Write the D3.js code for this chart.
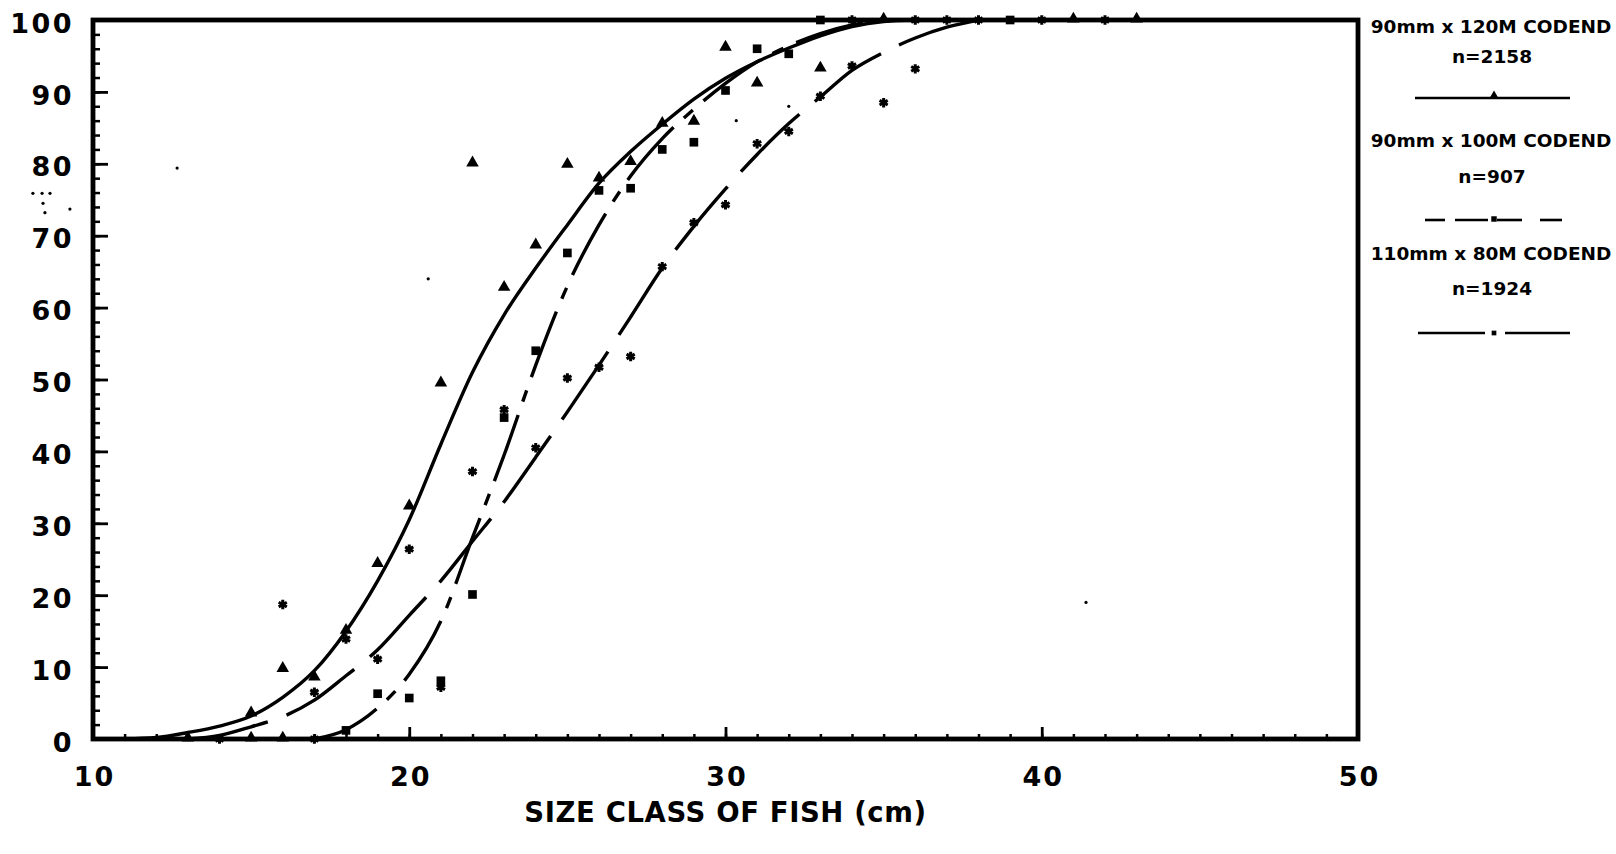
<!DOCTYPE html>
<html>
<head>
<meta charset="utf-8">
<script src="https://cdn.jsdelivr.net/npm/d3@7"></script>
<style>
  html, body { margin: 0; padding: 0; background: #fff; }
  svg { display: block; }
  .num { font-family: "DejaVu Sans", sans-serif; font-weight: bold; font-size: 27px; fill: #000; }
  .title { font-family: "DejaVu Sans", sans-serif; font-weight: bold; font-size: 27.5px; fill: #000; }
  .leg { font-family: "DejaVu Sans", sans-serif; font-weight: bold; font-size: 18.5px; fill: #000; }
</style>
</head>
<body>
<svg id="chart" width="1616" height="854"></svg>
<script>
// Retention (%) by size class (cm) for three codend configurations

// 90mm x 120M codend (triangles)
const triSize = [13, 15, 15, 16, 16, 17, 18, 19, 20, 21, 22, 23, 24, 25, 26, 27, 28, 29, 30, 31, 33, 35, 41, 43];
const triPct  = [0, 0, 3.5, 0, 9.7, 8.5, 15, 24.3, 32.3, 49.4, 80, 62.7, 68.6, 79.8, 77.9, 80.2, 85.5, 85.8, 96.1, 91.1, 93.2, 100, 100, 100];

// 90mm x 100M codend (squares)
const sqSize = [18, 19, 20, 21, 22, 23, 24, 25, 26, 27, 28, 29, 30, 31, 32, 33, 39];
const sqPct  = [1.2, 6.3, 5.7, 8.1, 20.1, 44.7, 54, 67.6, 76.3, 76.6, 82, 83, 90.2, 96, 95.3, 100, 100];

// 110mm x 80M codend (stars)
const starSize = [14, 16, 17, 17, 18, 19, 20, 21, 22, 23, 24, 25, 26, 27, 28, 29, 30, 31, 32, 33, 34, 35, 36, 34, 36, 37, 38, 40, 42];
const starPct  = [0, 18.7, 0, 6.5, 13.9, 11.1, 26.4, 7.2, 37.2, 45.8, 40.5, 50.2, 51.7, 53.2, 65.7, 71.8, 74.3, 82.8, 84.5, 89.4, 93.6, 88.5, 93.2, 100, 100, 100, 100, 100, 100];

// Fitted selection curves
const fitSize1 = [11, 12, 13, 14, 15, 16, 17, 18, 19, 20, 21, 22, 23, 24, 25, 26, 27, 28, 29, 30, 31, 32, 33, 34, 35, 36];
const fitPct1  = [0, 0.2, 0.9, 1.8, 3.2, 5.8, 9.5, 15, 22, 30.5, 41, 51, 59, 65.5, 71.5, 77.3, 81.7, 85.5, 89, 91.9, 94.2, 96.1, 97.8, 99.1, 99.8, 100];

const fitSize2 = [17, 18, 19, 20, 21, 22, 23, 24, 25, 26, 27, 28, 29, 30, 31, 32, 33, 34, 35];
const fitPct2  = [0, 1.3, 4.3, 9, 16.4, 28, 39.5, 52, 63, 71.5, 78.3, 83.5, 87.6, 91.2, 94.2, 96.4, 98.1, 99.3, 100];

const fitSize3 = [13, 14, 15, 16, 17, 18, 19, 20, 21, 22, 23, 24, 25, 26, 27, 28, 29, 30, 31, 32, 33, 34, 35, 36, 37, 38];
const fitPct3  = [0, 0.5, 1.7, 3.1, 5.4, 8.8, 12.4, 17.2, 22, 27.5, 33, 39.2, 45.5, 52, 58.7, 65.5, 71.3, 76.5, 81.3, 85.6, 89.3, 93, 95.5, 97.5, 99, 100];

// stray print marks
const speckSize = [12.66, 41.4, 20.6, 30.34, 32.0, 8.1, 8.39, 8.64, 8.42, 8.48, 9.27];
const speckPct  = [79.4, 19.0, 64, 86, 88, 75.9, 75.9, 75.9, 74.5, 73.2, 73.7];

const xTicks = [10, 20, 30, 40, 50];
const yTicks = [0, 10, 20, 30, 40, 50, 60, 70, 80, 90, 100];

const legendTitles = ["90mm x 120M CODEND", "90mm x 100M CODEND", "110mm x 80M CODEND"];
const legendCounts = ["n=2158", "n=907", "n=1924"];
const xTitle = "SIZE CLASS OF FISH (cm)";

const svg = d3.select("#chart");
const x = d3.scaleLinear().domain([10, 50]).range([93, 1358]);
const y = d3.scaleLinear().domain([0, 100]).range([739, 20]);

const zip = (a, b) => a.map((v, i) => [v, b[i]]);

// minor ticks
svg.append("g").attr("transform", `translate(${x(10)},0)`)
  .call(d3.axisLeft(y).tickValues(d3.range(0, 101, 2)).tickSize(-7).tickFormat(""))
  .call(g => g.select(".domain").remove())
  .call(g => g.selectAll("line").attr("stroke", "#000").attr("stroke-width", 2.5));
svg.append("g").attr("transform", `translate(0,${y(0)})`)
  .call(d3.axisBottom(x).tickValues(d3.range(10, 51, 1)).tickSize(-5).tickFormat(""))
  .call(g => g.select(".domain").remove())
  .call(g => g.selectAll("line").attr("stroke", "#000").attr("stroke-width", 2.5));

// major ticks with labels
svg.append("g").attr("transform", `translate(${x(10)},0)`)
  .call(d3.axisLeft(y).tickValues(yTicks).tickSize(-15).tickPadding(21).tickFormat(d3.format("d")))
  .call(g => g.select(".domain").remove())
  .call(g => g.selectAll("line").attr("stroke", "#000").attr("stroke-width", 2.8))
  .call(g => g.selectAll("text").attr("class", "num").attr("dy", "0.45em")
    .style("letter-spacing", "2.5px").attr("x", -19));
svg.append("g").attr("transform", `translate(0,${y(0)})`)
  .call(d3.axisBottom(x).tickValues(xTicks).tickSize(-12).tickPadding(28).tickFormat(d3.format("d")))
  .call(g => g.select(".domain").remove())
  .call(g => g.selectAll("line").attr("stroke", "#000").attr("stroke-width", 2.8))
  .call(g => g.selectAll("text").attr("class", "num").style("letter-spacing", "2px").attr("dx", "1px"));

// frame
svg.append("rect")
  .attr("x", x(10)).attr("y", y(100))
  .attr("width", x(50) - x(10)).attr("height", y(0) - y(100))
  .attr("fill", "none").attr("stroke", "#000").attr("stroke-width", 4.8);

// fitted curves
const line = d3.line().x(d => x(d[0])).y(d => y(d[1])).curve(d3.curveMonotoneX);
const curves = [
  { data: zip(fitSize1, fitPct1), dash: null },
  { data: zip(fitSize2, fitPct2), dash: "70,14,12,14" },
  { data: zip(fitSize3, fitPct3), dash: "82,20" }
];
svg.append("g").selectAll("path").data(curves).join("path")
  .attr("d", d => line(d.data))
  .attr("fill", "none").attr("stroke", "#000").attr("stroke-width", 3.4)
  .attr("stroke-linecap", "butt")
  .attr("stroke-dasharray", d => d.dash);

// markers
const tri = d3.symbol().type(d3.symbolTriangle).size(68);
const sq = d3.symbol().type(d3.symbolSquare).size(75);
const starType = d3.symbolAsterisk || d3.symbolStar;
const star = d3.symbol().type(starType).size(62);

svg.append("g").selectAll("path").data(zip(triSize, triPct)).join("path")
  .attr("d", tri).attr("transform", d => `translate(${x(d[0])},${y(d[1]) - 1})`).attr("fill", "#000");
svg.append("g").selectAll("path").data(zip(sqSize, sqPct)).join("path")
  .attr("d", sq).attr("transform", d => `translate(${x(d[0])},${y(d[1])})`).attr("fill", "#000");
svg.append("g").selectAll("path").data(zip(starSize, starPct)).join("path")
  .attr("d", star).attr("transform", d => `translate(${x(d[0])},${y(d[1])})`)
  .attr("fill", "#000").attr("stroke", "#000").attr("stroke-width", 3);
svg.append("g").selectAll("circle").data(zip(speckSize, speckPct)).join("circle")
  .attr("cx", d => x(d[0])).attr("cy", d => y(d[1])).attr("r", 1.6).attr("fill", "#000");

// axis title
svg.append("text").attr("class", "title")
  .attr("x", x(30)).attr("y", 822).attr("text-anchor", "middle")
  .style("letter-spacing", "0.6px")
  .text(xTitle);

// legend
const legX = 1491;
const legRows = [
  { t: 33, n: 63, ly: 98, segs: [[1415, 1570]], sym: d3.symbol().type(d3.symbolTriangle).size(40), my: -2 },
  { t: 147, n: 183, ly: 220, segs: [[1425, 1445], [1455, 1488], [1497, 1522], [1540, 1562]], sym: d3.symbol().type(d3.symbolSquare).size(30), my: -1 },
  { t: 260, n: 295, ly: 333, segs: [[1418, 1485], [1505, 1570]], sym: d3.symbol().type(d3.symbolSquare).size(22), my: 0 }
];
const leg = svg.append("g");
legRows.forEach((r, i) => {
  leg.append("text").attr("class", "leg").attr("x", legX).attr("y", r.t)
    .attr("text-anchor", "middle").text(legendTitles[i]);
  leg.append("text").attr("class", "leg").attr("x", legX + 1).attr("y", r.n)
    .attr("text-anchor", "middle").text(legendCounts[i]);
  r.segs.forEach(s => {
    leg.append("line").attr("x1", s[0]).attr("x2", s[1]).attr("y1", r.ly).attr("y2", r.ly)
      .attr("stroke", "#000").attr("stroke-width", 2.6);
  });
  leg.append("path").attr("d", r.sym).attr("transform", `translate(${legX + 3},${r.ly + r.my})`).attr("fill", "#000");
});
</script>
</body>
</html>
